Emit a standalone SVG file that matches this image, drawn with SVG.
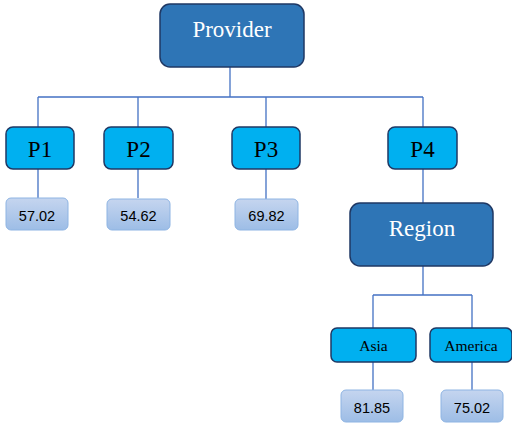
<svg xmlns="http://www.w3.org/2000/svg" width="512" height="425" viewBox="0 0 512 425">
<defs>
<linearGradient id="vg" x1="0" y1="0" x2="0" y2="1">
<stop offset="0" stop-color="#C5D5EF"/>
<stop offset="1" stop-color="#9DBDE6"/>
</linearGradient>
<style>
.dark{fill:#2E75B6;stroke:#1F3864;stroke-width:1.5}
.mid{fill:#00B0F0;stroke:#1F3864;stroke-width:1.5}
.val{fill:url(#vg);stroke:#8EB4E3;stroke-width:1}
.big{font-family:"Liberation Serif",serif;font-size:23px;text-anchor:middle}
.wt{fill:#FFFFFF}
.bk{fill:#000000}
.sm{font-family:"Liberation Serif",serif;font-size:15.5px;text-anchor:middle;fill:#000}
.num{font-family:"Liberation Sans",sans-serif;font-size:14.5px;text-anchor:middle;fill:#000}
.c{fill:none;stroke:#4472C4;stroke-width:1.3}
</style>
</defs>
<rect width="512" height="425" fill="#FFFFFF"/>
<g id="connectors">
<path class="c" d="M230,67 V97 M38,97 H423 M38,97 V127 M138,97 V127 M266,97 V127 M423,97 V127"/>
<path class="c" d="M38,169 V198 M138,169 V198 M266,169 V199 M423,169 V203"/>
<path class="c" d="M423,266 V295 M373,295 H472 M373,295 V328 M472,295 V328"/>
<path class="c" d="M373,362 V390 M472,362 V390"/>
</g>
<g id="provider"><rect class="dark" x="160" y="4" width="144" height="63" rx="10"/><text class="big wt" x="232" y="37">Provider</text></g>
<g id="p1"><rect class="mid" x="6" y="127" width="68" height="42" rx="7"/><text class="big bk" x="40" y="157">P1</text></g>
<g id="p2"><rect class="mid" x="104" y="127" width="69" height="42" rx="7"/><text class="big bk" x="138.5" y="157">P2</text></g>
<g id="p3"><rect class="mid" x="232" y="127" width="68" height="42" rx="7"/><text class="big bk" x="266" y="157">P3</text></g>
<g id="p4"><rect class="mid" x="388" y="127" width="69" height="42" rx="7"/><text class="big bk" x="422.5" y="157">P4</text></g>
<g id="v1"><rect class="val" x="6" y="198" width="62" height="32" rx="5"/><text class="num" x="37" y="221">57.02</text></g>
<g id="v2"><rect class="val" x="107" y="199" width="63" height="31" rx="5"/><text class="num" x="138.5" y="221">54.62</text></g>
<g id="v3"><rect class="val" x="235" y="199" width="63" height="31" rx="5"/><text class="num" x="266.5" y="221">69.82</text></g>
<g id="region"><rect class="dark" x="350" y="203" width="143" height="63" rx="10"/><text class="big wt" x="422" y="236">Region</text></g>
<g id="asia"><rect class="mid" x="331" y="328" width="85" height="34" rx="6"/><text class="sm" x="373.5" y="351">Asia</text></g>
<g id="america"><rect class="mid" x="430" y="328" width="82" height="34" rx="6"/><text class="sm" x="471" y="351">America</text></g>
<g id="v4"><rect class="val" x="341" y="390" width="62" height="32" rx="5"/><text class="num" x="372" y="413">81.85</text></g>
<g id="v5"><rect class="val" x="441" y="390" width="62" height="32" rx="5"/><text class="num" x="472" y="413">75.02</text></g>
</svg>
